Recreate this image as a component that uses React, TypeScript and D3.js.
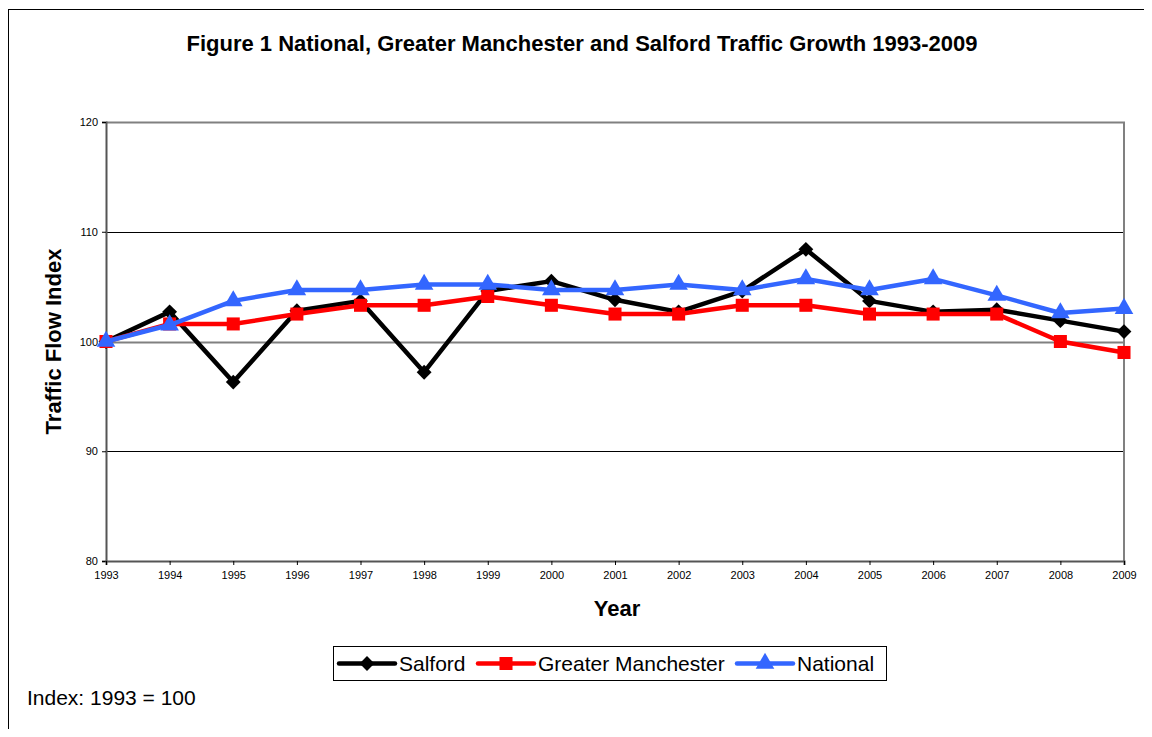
import React, { useEffect, useRef } from "react";
import * as d3 from "d3";

// chart data
const years = [1993, 1994, 1995, 1996, 1997, 1998, 1999, 2000, 2001, 2002, 2003, 2004, 2005, 2006, 2007, 2008, 2009];
const salford = [100, 102.7, 96.3, 102.8, 103.7, 97.2, 104.6, 105.5, 103.8, 102.7, 104.6, 108.4, 103.7, 102.7, 102.9, 101.9, 100.9];
const greaterManchester = [100, 101.6, 101.6, 102.5, 103.3, 103.3, 104.1, 103.3, 102.5, 102.5, 103.3, 103.3, 102.5, 102.5, 102.5, 100, 99];
const national = [100, 101.5, 103.7, 104.7, 104.7, 105.2, 105.2, 104.7, 104.7, 105.2, 104.7, 105.7, 104.7, 105.7, 104.2, 102.6, 103.0];
const yTicks = [80, 90, 100, 110, 120];

// Excel-style diamond = square turned 45 degrees
const seriesList = [
  { name: "Salford", values: salford, color: "#000000", symbol: d3.symbolSquare, size: 110, rotate: 45 },
  { name: "Greater Manchester", values: greaterManchester, color: "#ff0000", symbol: d3.symbolSquare, size: 170, rotate: 0 },
  { name: "National", values: national, color: "#3366ff", symbol: d3.symbolTriangle, size: 150, rotate: 0 },
];

const FONT = "'Liberation Sans', Arial, sans-serif";

const Chart = () => {
  const ref = useRef<SVGSVGElement>(null);

  useEffect(() => {
    if (!ref.current) return;
    const svg = d3.select(ref.current);
    svg.selectAll("*").remove();

    const W = 1152;
    const H = 737;
    const margin = { top: 122, right: 28, bottom: 176, left: 106 };
    const width = W - margin.left - margin.right;
    const height = H - margin.top - margin.bottom;

    svg.attr("width", W).attr("height", H).style("display", "block").style("font-family", FONT);

    // outer frame
    svg.append("rect").attr("x", 8.5).attr("y", 9.5).attr("width", W + 10).attr("height", H + 10)
      .attr("fill", "#fff").attr("stroke", "#000").attr("stroke-width", 1);

    svg.append("text").attr("x", 582).attr("y", 51).attr("text-anchor", "middle")
      .attr("font-size", 22).attr("font-weight", "bold")
      .text("Figure 1 National, Greater Manchester and Salford Traffic Growth 1993-2009");

    const g = svg.append("g").attr("transform", `translate(${margin.left},${margin.top})`);

    const x = d3.scaleLinear().domain([1993, 2009]).range([0, width]);
    const y = d3.scaleLinear().domain([80, 120]).range([height, 0]);

    // grid lines
    g.selectAll(".grid").data(yTicks.filter(t => t !== 80 && t !== 120)).enter().append("line")
      .attr("x1", 0).attr("x2", width)
      .attr("y1", d => Math.round(y(d)) + 0.5).attr("y2", d => Math.round(y(d)) + 0.5)
      .attr("stroke", d => (d === 100 ? "#808080" : "#000"))
      .attr("stroke-width", d => (d === 100 ? 2 : 1));

    // plot border top/right
    g.append("path").attr("d", `M0,0.5H${width}V${height}`).attr("fill", "none")
      .attr("stroke", "#808080").attr("stroke-width", 2);

    // y axis
    const yAxis = g.append("g").call(d3.axisLeft(y).tickValues(yTicks).tickSize(4).tickPadding(4));
    yAxis.select(".domain").attr("stroke", "#555").attr("stroke-width", 2);
    yAxis.selectAll("text").attr("font-size", 11).attr("font-family", FONT).attr("fill", "#000");

    // x axis
    const xAxis = g.append("g").attr("transform", `translate(0,${height})`)
      .call(d3.axisBottom(x).tickValues(years).tickFormat(d3.format("d")).tickSize(4).tickPadding(6));
    xAxis.select(".domain").attr("stroke", "#555").attr("stroke-width", 2);
    xAxis.selectAll("text").attr("font-size", 11).attr("font-family", FONT).attr("fill", "#000");

    g.append("text").attr("x", width / 2 + 2).attr("y", height + 55).attr("text-anchor", "middle")
      .attr("font-size", 22).attr("font-weight", "bold").text("Year");

    svg.append("text").attr("transform", `translate(61,${margin.top + height / 2}) rotate(-90)`)
      .attr("text-anchor", "middle").attr("font-size", 22).attr("font-weight", "bold")
      .text("Traffic Flow Index");

    const line = d3.line<number>().x((_, i) => x(years[i])).y(d => y(d));

    seriesList.forEach(s => {
      g.append("path").datum(s.values).attr("d", line).attr("fill", "none")
        .attr("stroke", s.color).attr("stroke-width", 4.5).attr("stroke-linejoin", "round");
      g.selectAll(null).data(s.values).enter().append("path")
        .attr("transform", (d, i) => `translate(${x(years[i])},${y(d)}) rotate(${s.rotate})`)
        .attr("d", d3.symbol().type(s.symbol).size(s.size)())
        .attr("fill", s.color);
    });

    // legend
    const lg = svg.append("g").attr("transform", "translate(333,646)");
    lg.append("rect").attr("x", 0.5).attr("y", 0.5).attr("width", 553).attr("height", 34)
      .attr("fill", "#fff").attr("stroke", "#000");
    const offsets = [6, 145, 404];
    seriesList.forEach((s, i) => {
      const ox = offsets[i];
      lg.append("line").attr("x1", ox).attr("x2", ox + 56).attr("y1", 17.5).attr("y2", 17.5)
        .attr("stroke", s.color).attr("stroke-width", 4.5).attr("stroke-linecap", "round");
      lg.append("path").attr("transform", `translate(${ox + 28},17.5) rotate(${s.rotate})`)
        .attr("d", d3.symbol().type(s.symbol).size(s.size)()).attr("fill", s.color);
      lg.append("text").attr("x", ox + 60).attr("y", 24.5).attr("font-size", 21).text(s.name);
    });

    svg.append("text").attr("x", 27).attr("y", 705).attr("font-size", 21).text("Index: 1993 = 100");
  }, []);

  return <svg ref={ref} />;
};

export default function App() {
  return (
    <div style={{ margin: -8 }}>
      <Chart />
    </div>
  );
}
